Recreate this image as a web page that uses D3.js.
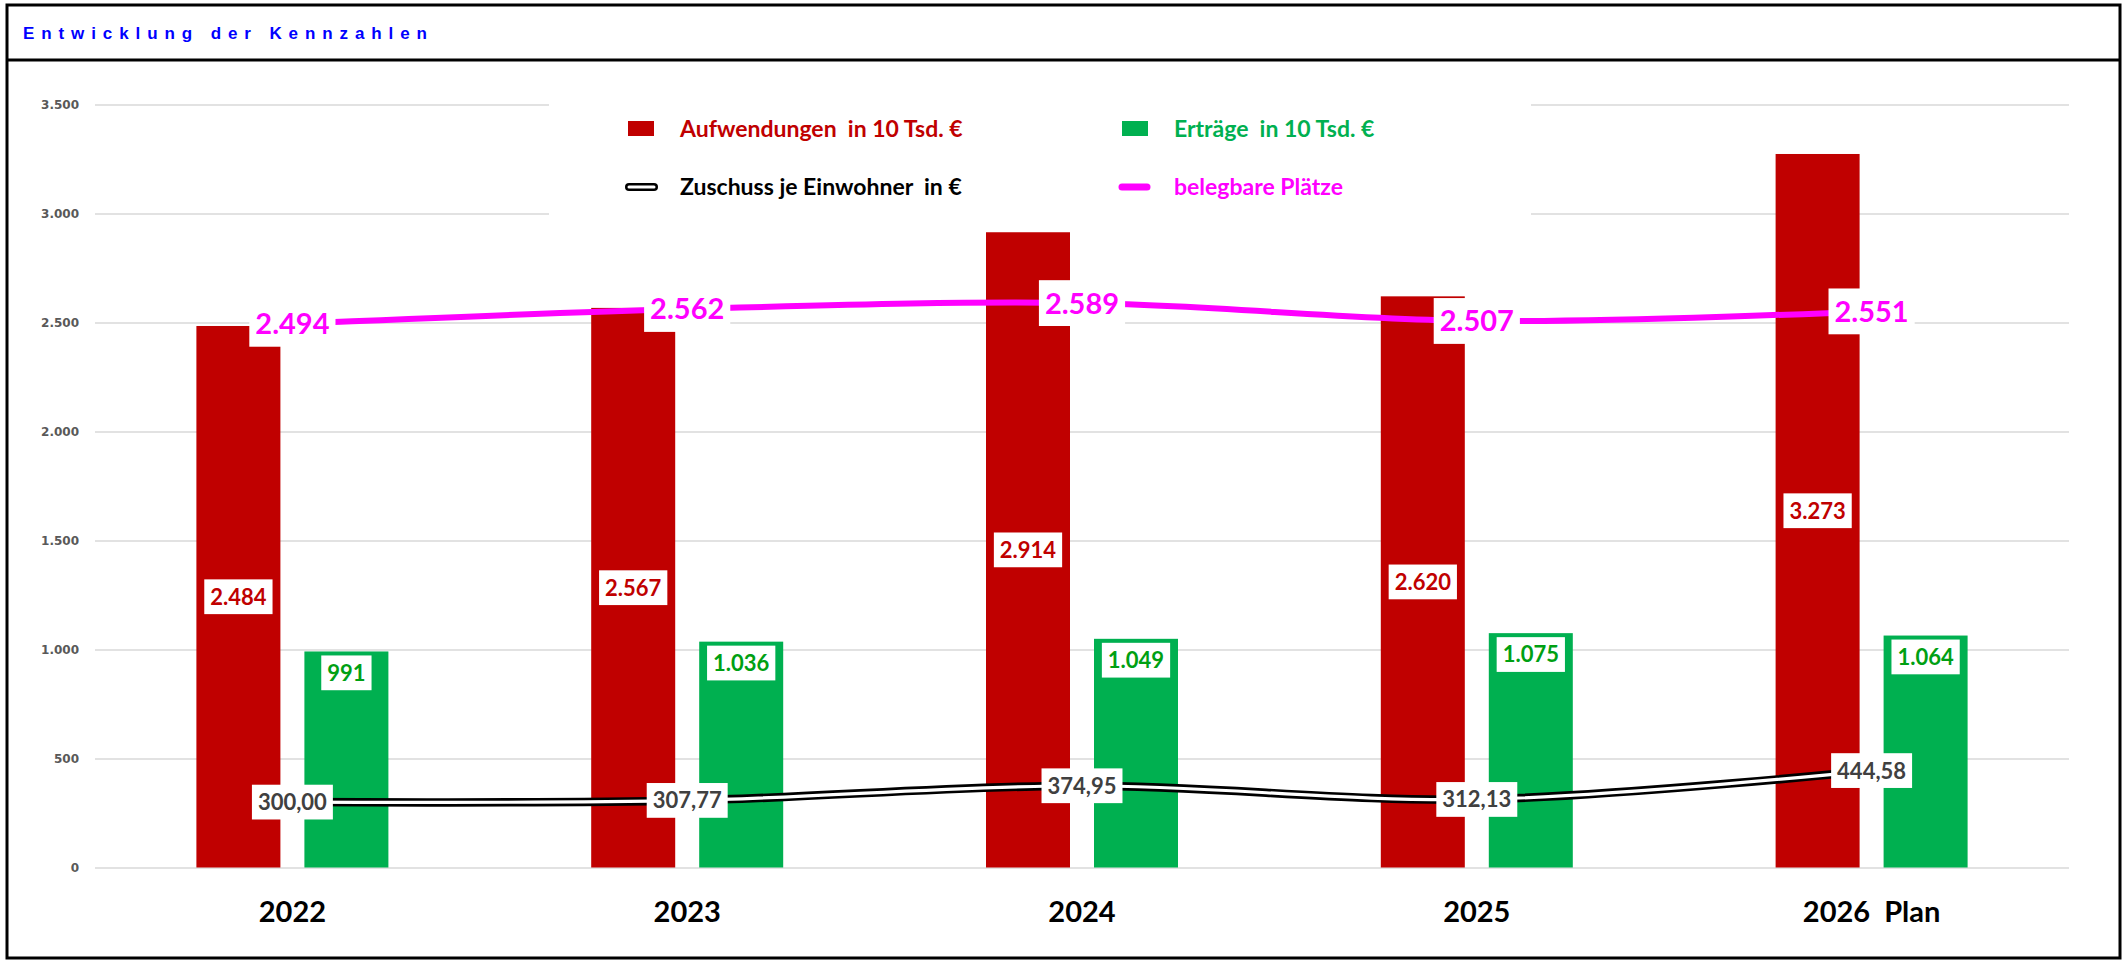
<!DOCTYPE html>
<html>
<head>
<meta charset="utf-8">
<script src="https://cdn.jsdelivr.net/npm/d3@7"></script>
<style>
  body { margin: 0; background: #fff; }
  svg text { white-space: pre; }
</style>
</head>
<body>
<svg id="chart"></svg>
<script>
// data
const years = ['2022', '2023', '2024', '2025', '2026  Plan'];
const aufwendungen = [2484, 2567, 2914, 2620, 3273];
const ertraege = [991, 1036, 1049, 1075, 1064];
const zuschuss = [300.00, 307.77, 374.95, 312.13, 444.58];
const plaetze = [2494, 2562, 2589, 2507, 2551];
const yTicks = [0, 500, 1000, 1500, 2000, 2500, 3000, 3500];
const legendLabels = ['Aufwendungen  in 10 Tsd. €', 'Erträge  in 10 Tsd. €', 'Zuschuss je Einwohner  in €', 'belegbare Plätze'];
const title = 'Entwicklung der Kennzahlen';

const w = 2125;
const h = 961;
const red = '#C00000';
const green = '#00B050';
const pink = '#FF00FF';

const de = d3.formatLocale({ decimal: ',', thousands: '.', grouping: [3], currency: ['', ' €'] });
const fInt = de.format(',d');
const fDec = de.format(',.2f');

const svg = d3.select('#chart')
    .attr('width', w)
    .attr('height', h)
    .style('display', 'block');

// frame + title
svg.append('rect')
    .attr('x', 7).attr('y', 5)
    .attr('width', 2113).attr('height', 953)
    .attr('fill', 'none')
    .attr('stroke', '#000')
    .attr('stroke-width', 3);

svg.append('line')
    .attr('x1', 7).attr('x2', 2120)
    .attr('y1', 60).attr('y2', 60)
    .attr('stroke', '#000')
    .attr('stroke-width', 3);

svg.append('text')
    .attr('x', 23).attr('y', 39)
    .attr('fill', '#0000FF')
    .style('font', 'bold 17px "Liberation Sans", Arial, sans-serif')
    .style('letter-spacing', '6.9px')
    .text(title);

// scales
const xScale = d3.scaleBand()
    .domain(years)
    .range([95, 2069])
    .padding(0);

const half = 96;
const xInner = d3.scaleBand()
    .domain(['auf', 'ert'])
    .range([xScale.bandwidth() / 2 - half, xScale.bandwidth() / 2 + half])
    .paddingInner(0.2222);

const yScale = d3.scaleLinear()
    .domain([0, 3500])
    .range([867.5, 104.5]);

const cx = d => xScale(d) + xScale.bandwidth() / 2;

// grid + y labels
const yAxis = d3.axisLeft(yScale)
    .tickValues(yTicks)
    .tickSize(-(2069 - 95))
    .tickPadding(16)
    .tickFormat(fInt);

const gy = svg.append('g')
    .attr('transform', 'translate(95,0)')
    .call(yAxis);
gy.select('.domain').remove();
gy.selectAll('.tick line')
    .attr('stroke', '#D9D9D9')
    .attr('stroke-width', 1.5);
gy.selectAll('.tick text')
    .attr('fill', '#595959')
    .style('font', 'bold 12px "DejaVu Sans", Verdana, sans-serif');

// x labels
const xAxis = d3.axisBottom(xScale).tickSize(0).tickPadding(0);
const gx = svg.append('g')
    .attr('transform', 'translate(0,922)')
    .call(xAxis);
gx.select('.domain').remove();
gx.selectAll('.tick text')
    .attr('dy', 0)
    .attr('fill', '#000')
    .style('font', 'bold 29px Lato, sans-serif');

// bars
const bars = svg.append('g');
bars.selectAll('.auf')
    .data(aufwendungen)
    .join('rect')
    .attr('class', 'auf')
    .attr('x', (d, i) => xScale(years[i]) + xInner('auf'))
    .attr('width', xInner.bandwidth())
    .attr('y', d => yScale(d))
    .attr('height', d => yScale(0) - yScale(d))
    .attr('fill', red);

bars.selectAll('.ert')
    .data(ertraege)
    .join('rect')
    .attr('class', 'ert')
    .attr('x', (d, i) => xScale(years[i]) + xInner('ert'))
    .attr('width', xInner.bandwidth())
    .attr('y', d => yScale(d))
    .attr('height', d => yScale(0) - yScale(d))
    .attr('fill', green);

// legend box (white, hides the grid behind it)
const lg = svg.append('g');
lg.append('rect')
    .attr('x', 549).attr('y', 95)
    .attr('width', 982).attr('height', 123)
    .attr('fill', '#fff');

const legendFont = 'bold 23px Lato, sans-serif';
lg.append('rect').attr('x', 628).attr('y', 121).attr('width', 26).attr('height', 15).attr('fill', red);
lg.append('rect').attr('x', 1122).attr('y', 121).attr('width', 26).attr('height', 15).attr('fill', green);
lg.append('line').attr('x1', 629).attr('x2', 654).attr('y1', 187).attr('y2', 187)
    .attr('stroke', '#000').attr('stroke-width', 8).attr('stroke-linecap', 'round');
lg.append('line').attr('x1', 629).attr('x2', 654).attr('y1', 187).attr('y2', 187)
    .attr('stroke', '#fff').attr('stroke-width', 3).attr('stroke-linecap', 'round');
lg.append('line').attr('x1', 1122).attr('x2', 1147).attr('y1', 187).attr('y2', 187)
    .attr('stroke', pink).attr('stroke-width', 7).attr('stroke-linecap', 'round');

const legendPos = [[680, 137, red], [1174, 137, green], [680, 195, '#000'], [1174, 195, pink]];
legendLabels.forEach((t, i) => {
    lg.append('text')
        .attr('x', legendPos[i][0]).attr('y', legendPos[i][1])
        .attr('fill', legendPos[i][2])
        .style('font', legendFont)
        .text(t);
});

// lines
const smooth = d3.line()
    .x((d, i) => cx(years[i]))
    .y(d => yScale(d))
    .curve(d3.curveCardinal);

const lines = svg.append('g');
lines.append('path')
    .attr('d', smooth(zuschuss))
    .attr('fill', 'none')
    .attr('stroke', '#000')
    .attr('stroke-width', 8.5);
lines.append('path')
    .attr('d', smooth(zuschuss))
    .attr('fill', 'none')
    .attr('stroke', '#fff')
    .attr('stroke-width', 3.2);
lines.append('path')
    .attr('d', smooth(plaetze))
    .attr('fill', 'none')
    .attr('stroke', pink)
    .attr('stroke-width', 6);

// data labels with white box
const labels = svg.append('g');
function addLabel(x, y, txt, size, color) {
    const g = labels.append('g');
    const box = g.append('rect').attr('fill', '#fff');
    const t = g.append('text')
        .attr('x', x).attr('y', y)
        .attr('dy', '0.36em')
        .attr('text-anchor', 'middle')
        .attr('fill', color)
        .style('font', `bold ${size}px Lato, sans-serif`)
        .text(txt);
    const tw = t.node().getComputedTextLength();
    const bh = size * 1.58;
    box.attr('x', x - tw / 2 - 6).attr('width', tw + 12)
        .attr('y', y - bh / 2).attr('height', bh);
}

aufwendungen.forEach((v, i) => {
    addLabel(xScale(years[i]) + xInner('auf') + xInner.bandwidth() / 2, yScale(v / 2), fInt(v), 22, red);
});
ertraege.forEach((v, i) => {
    addLabel(xScale(years[i]) + xInner('ert') + xInner.bandwidth() / 2, yScale(v) + 4 + 22 * 0.79, fInt(v), 22, '#00A013');
});
zuschuss.forEach((v, i) => {
    addLabel(cx(years[i]), yScale(v), fDec(v), 22, '#404040');
});
plaetze.forEach((v, i) => {
    addLabel(cx(years[i]), yScale(v), fInt(v), 29, pink);
});
</script>
</body>
</html>
